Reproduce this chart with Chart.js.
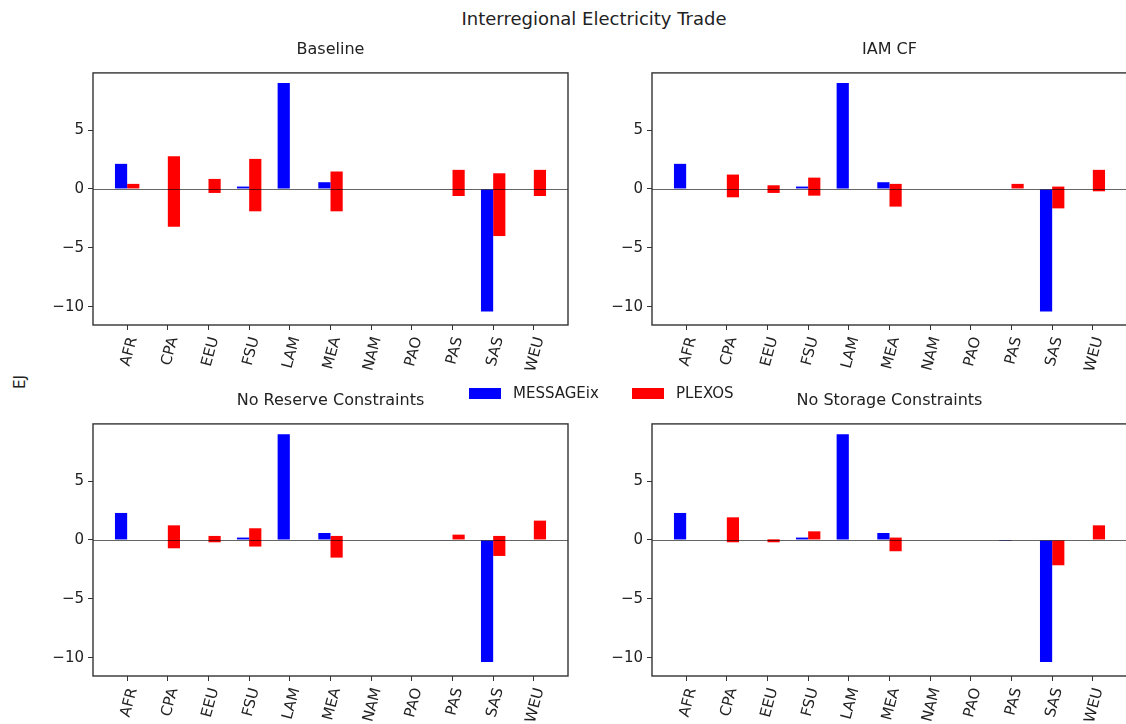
<!DOCTYPE html>
<html>
<head>
<meta charset="utf-8">
<script src="https://cdn.jsdelivr.net/npm/chart.js@4.4.1/dist/chart.umd.min.js"></script>
<style>
  body { margin: 0; width: 1126px; height: 724px; overflow: hidden; background: #fff; position: relative;
         font-family: "DejaVu Sans", sans-serif; color: #222; }
  canvas { position: absolute; }
  #c0 { left: 43px; top: 34px; }
  #c1 { left: 602px; top: 34px; }
  #c2 { left: 43px; top: 385px; }
  #c3 { left: 602px; top: 385px; }
  #main-title { position: absolute; left: 0; width: 1188px; top: 8px; text-align: center; font-size: 18px; }
  #ylabel { position: absolute; left: 2px; top: 373px; width: 36px; text-align: center; font-size: 15px;
            transform: rotate(-90deg); }
  .legend { position: absolute; top: 383px; height: 20px; display: flex; align-items: center; font-size: 15px; }
  .legend span.sw { display: inline-block; width: 32px; height: 11px; margin-right: 12px; }
</style>
</head>
<body>
<div id="main-title">Interregional Electricity Trade</div>
<div id="ylabel">EJ</div>
<canvas id="c0" width="575" height="336"></canvas>
<canvas id="c1" width="575" height="336"></canvas>
<canvas id="c2" width="575" height="336"></canvas>
<canvas id="c3" width="575" height="336"></canvas>
<div id="legend"></div>
<script>
const regions = ["AFR", "CPA", "EEU", "FSU", "LAM", "MEA", "NAM", "PAO", "PAS", "SAS", "WEU"];
const scenarios = ["Baseline", "IAM CF", "No Reserve Constraints", "No Storage Constraints"];
const seriesNames = ["MESSAGEix", "PLEXOS"];
const seriesColors = ["#0000ff", "#ff0000"];
const yTicks = [-10, -5, 0, 5];

// MESSAGEix net trade per region
const messageixBaseline = [2.13, 0, 0, 0.2, 9.0, 0.57, 0, 0, -0.05, -10.4, 0];
const messageixIamCf = [2.13, 0, 0, 0.2, 9.0, 0.57, 0, 0, -0.05, -10.4, 0];
const messageixNoReserve = [2.29, 0, 0, 0.2, 8.98, 0.59, 0, 0, -0.05, -10.37, 0];
const messageixNoStorage = [2.29, 0, 0, 0.2, 8.98, 0.59, 0, 0, -0.08, -10.37, 0];

// PLEXOS imports (positive part) and exports (negative part)
const plexosPosBaseline = [0.43, 2.78, 0.85, 2.55, 0, 1.48, 0, 0, 1.62, 1.33, 1.62];
const plexosNegBaseline = [0, -3.2, -0.34, -1.9, 0, -1.9, 0, 0, -0.6, -4.0, -0.6];
const plexosPosIamCf = [0, 1.22, 0.31, 0.96, 0, 0.43, 0, 0, 0.43, 0.2, 1.62];
const plexosNegIamCf = [0, -0.71, -0.34, -0.57, 0, -1.5, 0, 0, 0, -1.65, -0.2];
const plexosPosNoReserve = [0, 1.24, 0.34, 0.99, 0, 0.34, 0, 0, 0.45, 0.34, 1.64];
const plexosNegNoReserve = [0, -0.71, -0.2, -0.56, 0, -1.5, 0, 0, 0, -1.36, 0];
const plexosPosNoStorage = [0, 1.92, 0.05, 0.73, 0, 0.2, 0, 0, 0, 0, 1.24];
const plexosNegNoStorage = [0, -0.2, -0.2, 0, 0, -0.96, 0, 0, 0, -2.15, 0];

const messageix = [messageixBaseline, messageixIamCf, messageixNoReserve, messageixNoStorage];
const plexosPos = [plexosPosBaseline, plexosPosIamCf, plexosPosNoReserve, plexosPosNoStorage];
const plexosNeg = [plexosNegBaseline, plexosNegIamCf, plexosNegNoReserve, plexosNegNoStorage];

Chart.defaults.font.family = "'DejaVu Sans', sans-serif";
Chart.defaults.color = "#222";

// axes box + zero line drawn above the bars
const axesFrame = {
  id: "axesFrame",
  afterDatasetsDraw(chart) {
    const { ctx, chartArea: a, scales } = chart;
    const y0 = Math.round(scales.y.getPixelForValue(0)) + 0.5;
    ctx.save();
    ctx.strokeStyle = "rgba(0,0,0,0.6)";
    ctx.lineWidth = 1.2;
    ctx.beginPath();
    ctx.moveTo(a.left, y0);
    ctx.lineTo(a.right, y0);
    ctx.stroke();
    ctx.strokeStyle = "#333";
    ctx.lineWidth = 1.4;
    ctx.strokeRect(a.left, a.top, a.right - a.left, a.bottom - a.top);
    ctx.restore();
  },
};

scenarios.forEach((name, k) => {
  const ctx = document.getElementById("c" + k).getContext("2d");
  new Chart(ctx, {
    type: "bar",
    data: {
      datasets: [
        {
          label: seriesNames[0],
          data: messageix[k].map((v, i) => ({ x: i, y: v === 0 ? null : v })),
          backgroundColor: seriesColors[0],
          borderWidth: 0,
        },
        {
          label: seriesNames[1],
          data: plexosPos[k].map((v, i) =>
            v === 0 && plexosNeg[k][i] === 0 ? { x: i, y: null } : { x: i, y: [plexosNeg[k][i], v] }
          ),
          backgroundColor: seriesColors[1],
          borderWidth: 0,
        },
      ],
    },
    options: {
      responsive: false,
      animation: false,
      devicePixelRatio: 1,
      categoryPercentage: 0.6,
      barPercentage: 1.0,
      layout: { padding: 0 },
      plugins: {
        legend: { display: false },
        tooltip: { enabled: false },
        title: {
          display: true,
          text: name,
          font: { size: 16, weight: "normal" },
          color: "#222",
          padding: { top: 6, bottom: 13.7 },
        },
      },
      scales: {
        x: {
          type: "linear",
          offset: false,
          min: -0.84,
          max: 10.84,
          afterBuildTicks: (s) => { s.ticks = regions.map((r, i) => ({ value: i })); },
          afterFit: (s) => { s.height = 45; },
          ticks: {
            callback: (v, i) => regions[i],
            minRotation: 75,
            maxRotation: 75,
            autoSkip: false,
            padding: 5,
            labelOffset: 6,
            font: { size: 15 },
            color: "#222",
          },
          grid: { offset: false, drawOnChartArea: false, tickLength: 5, tickColor: "#333" },
          border: { display: false },
        },
        y: {
          min: -11.55,
          max: 9.85,
          afterBuildTicks: (s) => { s.ticks = yTicks.map((v) => ({ value: v })); },
          afterFit: (s) => { s.width = 50; },
          ticks: {
            callback: (v) => (v < 0 ? "\u2212" + Math.abs(v) : String(v)),
            padding: 4,
            font: { size: 15 },
            color: "#222",
          },
          grid: { drawOnChartArea: false, tickLength: 5, tickColor: "#333" },
          border: { display: false },
        },
        yRight: {
          type: "linear",
          position: "right",
          ticks: { display: false },
          grid: { display: false },
          border: { display: false },
          afterFit: (s) => { s.width = 50; },
        },
      },
    },
    plugins: [axesFrame],
  });
});

// shared legend between the panel rows
const legendLeft = [469, 632];
const legend = document.getElementById("legend");
seriesNames.forEach((label, i) => {
  const item = document.createElement("div");
  item.className = "legend";
  item.style.left = legendLeft[i] + "px";
  item.innerHTML = `<span class="sw" style="background:${seriesColors[i]}"></span><span>${label}</span>`;
  legend.appendChild(item);
});
</script>
</body>
</html>
